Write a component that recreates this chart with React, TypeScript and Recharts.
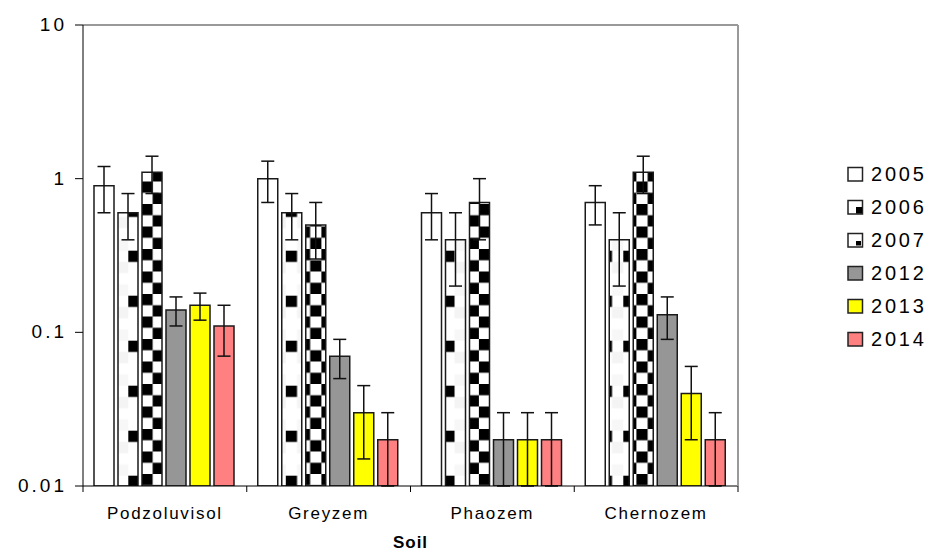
import React from 'react';
import { Bar, BarChart, ErrorBar, ReferenceLine, XAxis, YAxis } from 'recharts';

const soils = ['Podzoluvisol', 'Greyzem', 'Phaozem', 'Chernozem'];
const years = ['2005', '2006', '2007', '2012', '2013', '2014'];

const mean2005 = [0.9, 1.0, 0.6, 0.7];
const mean2006 = [0.6, 0.6, 0.4, 0.4];
const mean2007 = [1.1, 0.5, 0.7, 1.1];
const mean2012 = [0.14, 0.07, 0.02, 0.13];
const mean2013 = [0.15, 0.03, 0.02, 0.04];
const mean2014 = [0.11, 0.02, 0.02, 0.02];

const err2005 = [0.3, 0.3, 0.2, 0.2];
const err2006 = [0.2, 0.2, 0.2, 0.2];
const err2007 = [0.3, 0.2, 0.3, 0.3];
const err2012 = [0.03, 0.02, 0.01, 0.04];
const err2013 = [0.03, 0.015, 0.01, 0.02];
const err2014 = [0.04, 0.01, 0.01, 0.01];

const yTicks = [0.01, 0.1, 1, 10];

const means = [mean2005, mean2006, mean2007, mean2012, mean2013, mean2014];
const errs = [err2005, err2006, err2007, err2012, err2013, err2014];
const fills = ['#ffffff', 'url(#p2006)', 'url(#p2007)', '#969696', '#ffff00', '#ff8080'];

const data = soils.map((soil, i) => {
  const row: Record<string, string | number> = { soil };
  years.forEach((yr, j) => {
    row['v' + yr] = means[j][i];
    row['e' + yr] = errs[j][i];
  });
  return row;
});

const font = '"Liberation Sans", Arial, sans-serif';

const YTick = ({ x, y, payload }: any) => (
  <text x={x} y={y} dy={6} textAnchor="end" fontSize={19} letterSpacing={3} fill="#000" fontFamily={font}>
    {String(payload.value)}
  </text>
);

// category tick: label in the middle of the band, tick marks on the band edges
const XTick = ({ x, y, payload, index, width, visibleTicksCount }: any) => {
  const half = width / visibleTicksCount / 2;
  return (
    <g>
      <line x1={x - half} x2={x - half} y1={y} y2={y + 6} stroke="#000" strokeWidth={1} />
      {index === visibleTicksCount - 1 && (
        <line x1={x + half} x2={x + half} y1={y} y2={y + 6} stroke="#000" strokeWidth={1} />
      )}
      <text x={x} y={y + 33} textAnchor="middle" fontSize={17} letterSpacing={1.7} fill="#000" fontFamily={font}>
        {payload.value}
      </text>
    </g>
  );
};

const LegendIcon = ({ i }: { i: number }) => (
  <svg width={18} height={17}>
    <rect x={1} y={1.5} width={14.5} height={13.5} fill={i === 1 || i === 2 ? '#fff' : fills[i]} stroke="#222" strokeWidth={1.5} />
    {i === 1 && <rect x={9} y={8} width={6} height={6.5} fill="#000" />}
    {i === 2 && <rect x={9} y={9} width={5} height={4.5} fill="#000" />}
  </svg>
);

const ChartLegend = () => (
  <div style={{ position: 'absolute', left: 847, top: 158, fontFamily: font, fontSize: 20, color: '#000' }}>
    {years.map((yr, i) => (
      <div key={yr} style={{ display: 'flex', alignItems: 'center', height: 33 }}>
        <LegendIcon i={i} />
        <span style={{ marginLeft: 6, letterSpacing: 2.8 }}>{yr}</span>
      </div>
    ))}
  </div>
);

export default function App() {
  return (
    <div style={{ position: 'absolute', left: 0, top: 0, width: 932, height: 552, background: '#fff' }}>
      <BarChart
        width={932}
        height={552}
        data={data}
        margin={{ top: 25, right: 193, bottom: 0, left: 0 }}
        barCategoryGap={11}
        barGap={4}
      >
        <defs>
          <pattern id="p2007" patternUnits="userSpaceOnUse" width={22.5} height={22.5} x={6.4} y={1.5}>
            <rect width={22.5} height={22.5} fill="#fff" />
            <rect width={11.25} height={11.25} fill="#000" />
            <rect x={11.25} y={11.25} width={11.25} height={11.25} fill="#000" />
          </pattern>
          <pattern id="p2006" patternUnits="userSpaceOnUse" width={22.5} height={45} x={15.8} y={25.7}>
            <rect width={22.5} height={45} fill="#fff" />
            <rect x={11.25} y={11.25} width={11.25} height={11.25} fill="#f4f4f4" />
            <rect x={11.25} y={33.75} width={11.25} height={11.25} fill="#f7f7f7" />
            <rect width={11.25} height={11.25} fill="#000" />
          </pattern>
        </defs>
        <XAxis
          dataKey="soil"
          interval={0}
          height={66}
          tickLine={false}
          tickSize={0}
          tickMargin={0}
          axisLine={{ stroke: '#000', strokeWidth: 1 }}
          tick={<XTick />}
        />
        <YAxis
          scale="log"
          type="number"
          domain={[0.01, 10]}
          ticks={yTicks}
          interval={0}
          allowDataOverflow
          width={83}
          tickSize={8}
          tickMargin={8}
          tickLine={{ stroke: '#000' }}
          axisLine={{ stroke: '#000', strokeWidth: 1 }}
          tick={<YTick />}
        />
        <YAxis
          yAxisId="right"
          orientation="right"
          scale="log"
          type="number"
          domain={[0.01, 10]}
          allowDataOverflow
          width={1}
          tick={false}
          tickLine={false}
          axisLine={{ stroke: '#999', strokeWidth: 2 }}
        />
        <ReferenceLine y={10} stroke="#999" strokeWidth={2} />
        {years.map((yr, j) => (
          <Bar
            key={yr}
            dataKey={'v' + yr}
            name={yr}
            fill={fills[j]}
            stroke="#1a1a1a"
            strokeWidth={1.5}
            isAnimationActive={false}
          >
            <ErrorBar dataKey={'e' + yr} width={6.5} stroke="#111" strokeWidth={1.5} />
          </Bar>
        ))}
      </BarChart>
      <ChartLegend />
      <div
        style={{
          position: 'absolute',
          left: 83,
          width: 655,
          top: 534,
          textAlign: 'center',
          fontFamily: font,
          fontSize: 17,
          lineHeight: '17px',
          fontWeight: 'bold',
          letterSpacing: 1,
          color: '#000',
        }}
      >
        Soil
      </div>
    </div>
  );
}
